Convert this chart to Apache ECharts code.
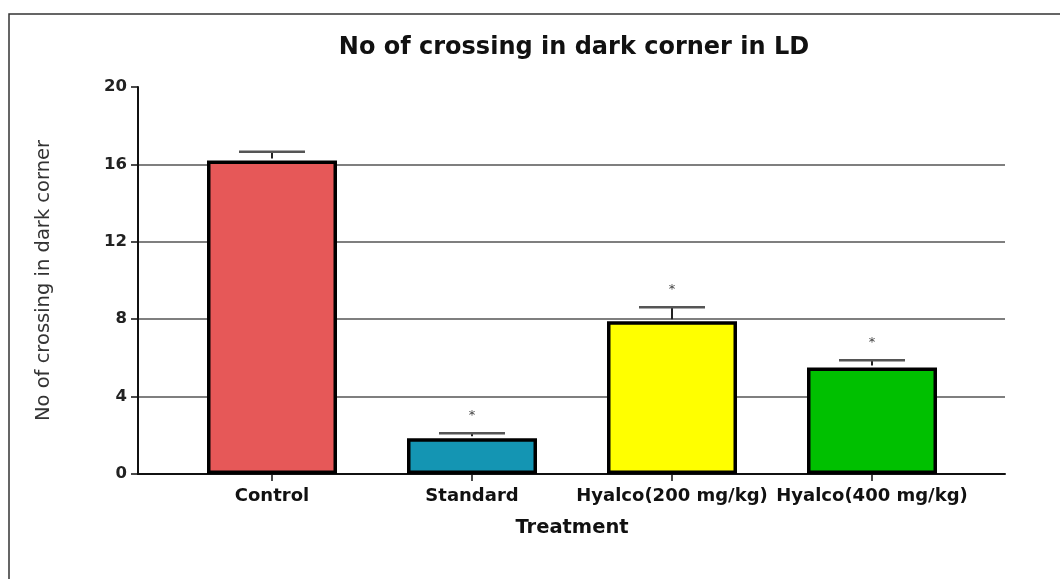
<!DOCTYPE html>
<html>
<head>
<meta charset="utf-8">
<script src="https://cdn.jsdelivr.net/npm/echarts@6/dist/echarts.min.js"></script>
<style>
  html, body { margin: 0; padding: 0; background: #ffffff; }
  #chart { width: 1060px; height: 579px; }
</style>
</head>
<body>
<div id="chart"></div>
<script>
// Treatment groups and measured values
const categories = ['Control', 'Standard', 'Hyalco(200 mg/kg)', 'Hyalco(400 mg/kg)'];
const means = [16.2, 1.85, 7.9, 5.5];
const errors = [0.45, 0.25, 0.72, 0.38];
const significance = ['', '*', '*', '*'];
const yTicks = [0, 4, 8, 12, 16, 20];
const barColors = ['#E65858', '#1495B3', '#FFFF00', '#00C000'];

const FONT = 'DejaVu Sans';
const chart = echarts.init(document.getElementById('chart'));

const option = {
  backgroundColor: '#ffffff',
  animation: false,
  title: {
    text: 'No of crossing in dark corner in LD',
    left: 569,
    top: 31,
    textAlign: 'center',
    textStyle: { fontFamily: FONT, fontSize: 24, fontWeight: 'bold', color: '#111' }
  },
  grid: [
    // frame axes and grid lines
    { left: 138, right: 55, top: 87, bottom: 105 },
    // bars centred over the treatment groups
    { left: 172, width: 800, top: 87, bottom: 105 }
  ],
  xAxis: [
    {
      gridIndex: 0, type: 'value', min: 0, max: 1,
      axisLine: { show: true, onZero: false, lineStyle: { color: '#111', width: 2 } },
      axisTick: { show: false }, axisLabel: { show: false }, splitLine: { show: false }
    },
    {
      gridIndex: 1, type: 'category', data: categories,
      name: 'Treatment', nameLocation: 'middle', nameGap: 44,
      nameTextStyle: { fontFamily: FONT, fontSize: 19.5, fontWeight: 'bold', color: '#111' },
      axisLine: { show: false },
      axisTick: { show: true, alignWithLabel: true, length: 7, lineStyle: { color: '#111', width: 1.5 } },
      axisLabel: {
        interval: 0, hideOverlap: false, margin: 13,
        fontFamily: FONT, fontSize: 18, fontWeight: 'bold', color: '#111'
      },
      splitLine: { show: false }
    }
  ],
  yAxis: [
    {
      gridIndex: 0, type: 'value', min: yTicks[0], max: yTicks[yTicks.length - 1], interval: 4,
      name: 'No of crossing in dark corner', nameLocation: 'middle', nameGap: 84,
      nameTextStyle: { fontFamily: FONT, fontSize: 19.5, color: '#333' },
      axisLine: { show: true, lineStyle: { color: '#111', width: 2 } },
      axisTick: { show: true, length: 7, lineStyle: { color: '#111', width: 1.5 } },
      axisLabel: { margin: 11, fontFamily: FONT, fontSize: 16.5, fontWeight: 'bold', color: '#222' },
      splitLine: {
        show: true, showMinLine: false, showMaxLine: false,
        lineStyle: { color: '#555', width: 1.5 }
      }
    },
    {
      gridIndex: 1, type: 'value', min: yTicks[0], max: yTicks[yTicks.length - 1], interval: 4,
      show: false, splitLine: { show: false }
    }
  ],
  series: [
    {
      type: 'bar',
      xAxisIndex: 1, yAxisIndex: 1,
      barWidth: 130,
      data: means.map((v, i) => ({
        value: v,
        itemStyle: { color: barColors[i], borderColor: '#000', borderWidth: 3.5 }
      })),
      z: 3
    },
    {
      // SEM bars with significance marks
      type: 'custom',
      xAxisIndex: 1, yAxisIndex: 1,
      z: 4,
      data: means.map((m, i) => [i, m, errors[i]]),
      renderItem: function (params, api) {
        const i = api.value(0);
        const m = api.value(1);
        const e = api.value(2);
        const base = api.coord([i, m]);
        const top = api.coord([i, m + e]);
        const half = 33;
        const children = [
          { type: 'line', shape: { x1: base[0], y1: base[1] - 2, x2: top[0], y2: top[1] },
            style: { stroke: '#222', lineWidth: 2 } },
          { type: 'line', shape: { x1: top[0] - half, y1: top[1], x2: top[0] + half, y2: top[1] },
            style: { stroke: '#555', lineWidth: 2.5 } }
        ];
        const mark = significance[params.dataIndex];
        if (mark) {
          children.push({
            type: 'text',
            style: {
              text: mark, x: top[0], y: top[1] - 18,
              align: 'center', verticalAlign: 'middle',
              fontFamily: FONT, fontSize: 13, fill: '#444'
            }
          });
        }
        return { type: 'group', children: children };
      }
    }
  ],
  graphic: [
    {
      type: 'polyline',
      shape: { points: [[9, 579], [9, 14], [1060, 14]] },
      style: { stroke: '#333', lineWidth: 1.5, fill: null }
    }
  ]
};

chart.setOption(option);
</script>
</body>
</html>
